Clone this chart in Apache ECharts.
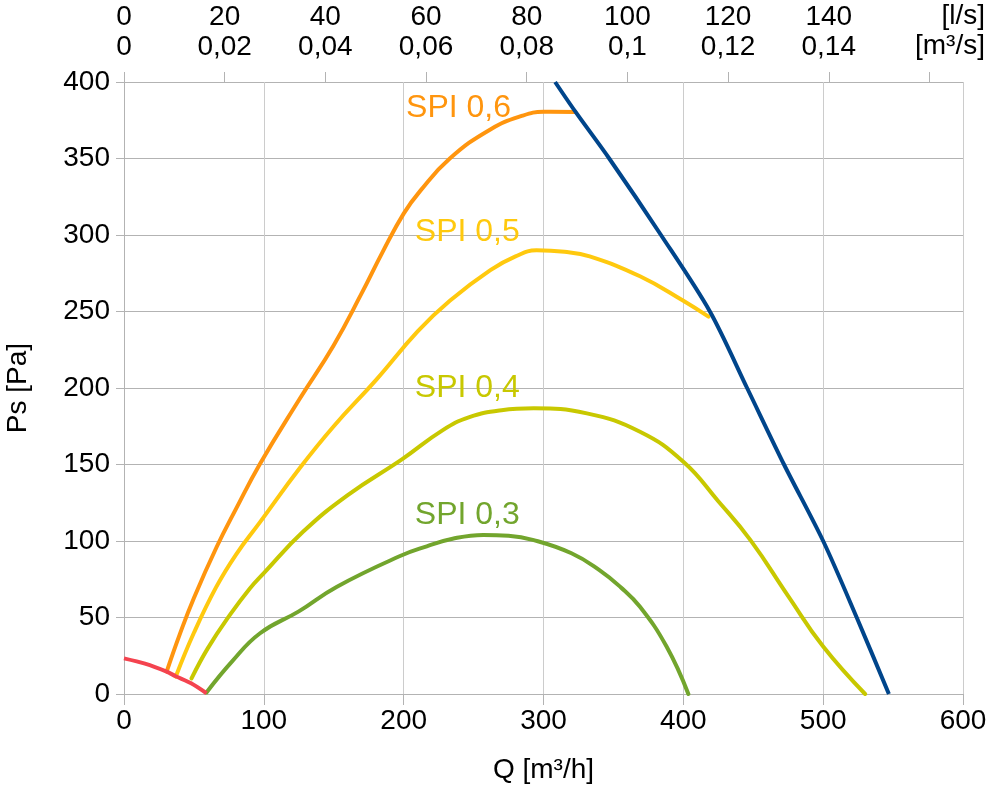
<!DOCTYPE html>
<html>
<head>
<meta charset="utf-8">
<script src="https://cdn.jsdelivr.net/npm/echarts@6/dist/echarts.min.js"></script>
<style>
html,body{margin:0;padding:0;background:#fff;}
#c{width:995px;height:788px;}
</style>
</head>
<body>
<div id="c"></div>
<script>
// Data: [Q m3/h, Ps Pa]
var spi06 = [[30.5,14.6],[40,39.3],[50,62.8],[66,95.6],[80,120.8],[97.3,150.5],[125,192],[150,228],[170,262],[185,289],[200,314],[212,329],[233,350],[262,369],[285,378],[300,380.5],[322.8,380.4]];
var spi05 = [[37,11.3],[50,40],[66,70],[80,91],[97,112],[126,148],[150,175],[180,205],[210,237],[233,257],[262,277],[280,286],[295,290],[315,289],[333,286],[369,273],[400,257],[418,246.6]];
var spi04 = [[48.3,10.2],[60,30],[76,52],[90,69],[100,79],[128,106],[160,130],[199,153.5],[228,172.5],[247,181],[270,185.5],[293,186.7],[331,183.4],[369,171.4],[400,151.8],[425,126],[448,100.6],[475,64],[500,31],[530,0]];
var spi03 = [[59,1],[77,21],[97.3,39.7],[125,54],[152,70],[197,90],[216.5,96.5],[235,101.5],[257,104],[275,103.5],[293,100.6],[320,92],[340,81],[355,70],[369,57],[388,31],[403.6,0]];
var fanMax = [[308.3,400],[322.8,380.6],[347,350],[384,300],[419,250],[445.6,200],[472,150],[500,100],[524,50],[547,0]];
var minLine = [[0,23.3],[15,19.8],[30.5,14.6],[37,11.6],[48,7],[59,0.5]];

var seriesNames = ['SPI 0,6','SPI 0,5','SPI 0,4','SPI 0,3'];
var labelPos = [[201.7,382.8],[208,302],[208,200],[208,117]];

var xTicksQ = [0,100,200,300,400,500,600];
var yTicks = [0,50,100,150,200,250,300,350,400];
var topTicksLs = [0,20,40,60,80,100,120,140,160];
var topUnitLs = '[l/s]';
var topUnitM3s = '[m³/s]';

var FONT = "'Liberation Sans', Arial, sans-serif";
var GRID = '#b3b3b3';

var colors = ['#ff950e','#ffc90e','#c8c800','#72a52d'];
var curves = [spi06, spi05, spi04, spi03];

var chart = echarts.init(document.getElementById('c'), null, {renderer:'canvas'});

var series = curves.map(function(d, i){
  return {
    type:'line', name: seriesNames[i], data: d, xAxisIndex:0, yAxisIndex:0,
    smooth:0.45, symbol:'none',
    lineStyle:{color:colors[i], width:4, cap:'round'},
    z: 3,
    markPoint:{
      symbol:'circle', symbolSize:0, silent:true, animation:false,
      data:[{coord:labelPos[i], value:seriesNames[i]}],
      label:{show:true, position:[0,0], align:'left', verticalAlign:'middle',
             formatter: seriesNames[i], color:colors[i], fontSize:32, fontFamily:FONT}
    }
  };
});
series.push({type:'line', data:fanMax, smooth:0.3, symbol:'none', lineStyle:{color:'#00458b', width:4}, z:4});
series.push({type:'line', data:minLine, smooth:0.3, symbol:'none', lineStyle:{color:'#f4434f', width:4}, z:4});

chart.setOption({
  animation:false,
  backgroundColor:'#fff',
  grid:{left:124, top:82, right:32, bottom:94, containLabel:false, outerBoundsMode:'none'},
  xAxis:[
    {type:'value', position:'bottom', min:0, max:600, interval:100,
     name:'Q [m³/h]', nameLocation:'middle', nameGap:61,
     nameTextStyle:{fontSize:28, fontFamily:FONT, color:'#000', lineHeight:30},
     axisLine:{show:true, lineStyle:{color:GRID, width:1}},
     axisTick:{show:true, length:11, lineStyle:{color:GRID}},
     axisLabel:{fontSize:28, fontFamily:FONT, color:'#000', margin:12, lineHeight:30,
                customValues:xTicksQ},
     splitLine:{show:true, lineStyle:{color:'#cccccc', width:1}}},
    {type:'value', position:'top', min:0, max:600/3.6, interval:20,
     axisLine:{show:false},
     axisTick:{show:true, length:10, lineStyle:{color:GRID}, customValues:topTicksLs},
     axisLabel:{fontSize:28, fontFamily:FONT, color:'#000', margin:20, lineHeight:30,
                customValues:topTicksLs.slice(0,-1),
                formatter:function(v){ return v + '\n' + String(v/1000).replace('.', ','); }},
     splitLine:{show:false}}
  ],
  yAxis:{type:'value', min:0, max:400, interval:50,
     name:'Ps [Pa]', nameLocation:'middle', nameGap:92, nameRotate:90,
     nameTextStyle:{fontSize:28, fontFamily:FONT, color:'#000'},
     axisLine:{show:true, lineStyle:{color:GRID}},
     axisTick:{show:true, length:8, lineStyle:{color:GRID}},
     axisLabel:{fontSize:28, fontFamily:FONT, color:'#000', margin:14, customValues:yTicks},
     splitLine:{show:true, lineStyle:{color:GRID, width:1}}},
  graphic:[
    {type:'text', x:985, y:16.7, style:{text:topUnitLs, fontSize:28, fontFamily:FONT, fill:'#000', align:'right', verticalAlign:'middle'}},
    {type:'text', x:985, y:46.7, style:{text:topUnitM3s, fontSize:28, fontFamily:FONT, fill:'#000', align:'right', verticalAlign:'middle'}}
  ],
  series: series
});
</script>
</body>
</html>
